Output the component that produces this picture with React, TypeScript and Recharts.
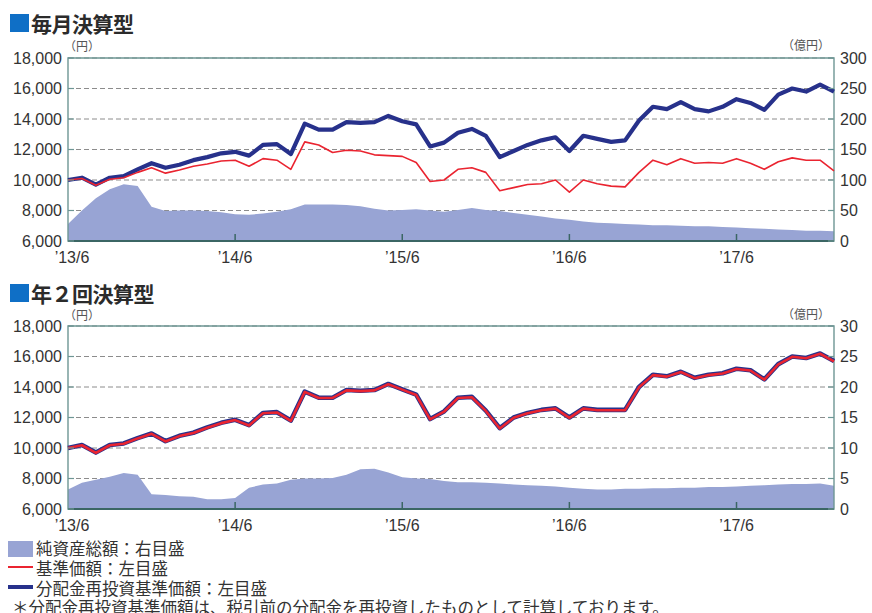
import React from 'react';
import { ComposedChart, Area, Line, XAxis, YAxis, CartesianGrid, ReferenceArea } from 'recharts';

// ---- data (monthly, from 2013/6) ----
const xTickMonths = [0, 12, 24, 36, 48];
const xTickLabels = ['’13/6', '’14/6', '’15/6', '’16/6', '’17/6'];
const leftTicks = [6000, 8000, 10000, 12000, 14000, 16000, 18000];
const rightTicksMonthly = [0, 50, 100, 150, 200, 250, 300];
const rightTicksSemi = [0, 5, 10, 15, 20, 25, 30];

// 毎月決算型
const monthlyNav = [
  10000, 10100, 9650, 10050, 10150, 10500, 10800, 10450, 10650, 10900,
  11050, 11250, 11300, 10900, 11400, 11300, 10700, 12500, 12300, 11800,
  11950, 11900, 11650, 11600, 11550, 11150, 9900, 10000, 10700, 10800,
  10500, 9300, 9500, 9700, 9750, 10000, 9200, 10000, 9750, 9600,
  9550, 10500, 11300, 11000, 11400, 11100, 11150, 11100, 11400, 11100,
  10700, 11200, 11450, 11300, 11300, 10600,
];
const monthlyReinvest = [
  10000, 10150, 9700, 10150, 10250, 10700, 11100, 10800, 11000, 11300,
  11500, 11750, 11850, 11600, 12300, 12350, 11700, 13700, 13300, 13300,
  13800, 13750, 13800, 14200, 13850, 13650, 12200, 12450, 13100, 13350,
  12900, 11500, 11900, 12300, 12600, 12800, 11900, 12900, 12700, 12500,
  12600, 13900, 14800, 14650, 15100, 14650, 14500, 14800, 15300, 15050,
  14600, 15600, 16000, 15800, 16250, 15800,
];
const monthlyAssets = [
  28, 50, 70, 85, 93, 90, 56, 49, 50, 50,
  49, 47, 44, 43, 45, 48, 52, 60, 60, 60,
  59, 57, 53, 50, 51, 52, 50, 48, 51, 54,
  51, 49, 46, 43, 40, 37, 35, 32, 30, 29,
  28, 27, 26, 26, 25, 24, 24, 23, 22, 21,
  20, 19, 18, 17, 17, 16,
];

// 年2回決算型
const semiNav = [
  10000, 10180, 9680, 10180, 10280, 10630, 10930, 10430, 10780, 10980,
  11330, 11630, 11830, 11480, 12280, 12330, 11780, 13680, 13280, 13280,
  13780, 13730, 13780, 14180, 13830, 13480, 11880, 12380, 13280, 13330,
  12430, 11280, 11980, 12280, 12480, 12580, 11980, 12580, 12480, 12480,
  12480, 13980, 14780, 14680, 14980, 14580, 14780, 14880, 15180, 15080,
  14480, 15480, 15980, 15880, 16180, 15680,
];
const semiReinvest = [
  10000, 10200, 9700, 10200, 10300, 10650, 10950, 10450, 10800, 11000,
  11350, 11650, 11850, 11500, 12300, 12350, 11800, 13700, 13300, 13300,
  13800, 13750, 13800, 14200, 13850, 13500, 11900, 12400, 13300, 13350,
  12450, 11300, 12000, 12300, 12500, 12600, 12000, 12600, 12500, 12500,
  12500, 14000, 14800, 14700, 15000, 14600, 14800, 14900, 15200, 15100,
  14500, 15500, 16000, 15900, 16200, 15700,
];
const semiAssets = [
  3.2, 4.3, 4.8, 5.3, 5.9, 5.6, 2.4, 2.3, 2.1, 2.0,
  1.6, 1.6, 1.8, 3.5, 4.0, 4.2, 4.8, 5.0, 5.0, 5.1,
  5.6, 6.5, 6.6, 6.0, 5.2, 5.0, 4.9, 4.6, 4.4, 4.4,
  4.3, 4.2, 4.0, 3.9, 3.8, 3.7, 3.5, 3.3, 3.2, 3.2,
  3.3, 3.3, 3.4, 3.4, 3.5, 3.5, 3.6, 3.6, 3.7, 3.8,
  3.9, 4.0, 4.1, 4.1, 4.2, 3.8,
];

const monthlyRows = monthlyNav.map((v, i) => ({ m: i, nav: v, re: monthlyReinvest[i], a: monthlyAssets[i] }));
const semiRows = semiNav.map((v, i) => ({ m: i, nav: v, re: semiReinvest[i], a: semiAssets[i] }));

// ---- styles ----
const C = {
  border: '#6e9694',
  axis: '#3b6664',
  grid: '#8c8c8c',
  area: '#98a4d4',
  navy: '#27318b',
  red: '#ea2430',
  text: '#333333',
  title: '#2b2b2b',
  square: '#0f6fc6',
};
const numFont = '"Liberation Sans", Arial, sans-serif';
const jpFont = '"Noto Sans CJK JP", "Noto Sans", sans-serif';

const LeftTick = (props: any) => {
  const { x, y, payload } = props;
  return (
    <g>
      <line x1={x + 6} x2={x + 12} y1={y} y2={y} stroke={C.border} strokeWidth={1.2} />
      <text x={x} y={y} dy="0.36em" textAnchor="end" fontFamily={numFont} fontSize={16} fill={C.text}>
        {Number(payload.value).toLocaleString('en-US')}
      </text>
    </g>
  );
};

const RightTick = (props: any) => {
  const { x, y, payload } = props;
  return (
    <g>
      <line x1={x - 6} x2={x - 12} y1={y} y2={y} stroke={C.border} strokeWidth={1.2} />
      <text x={x} y={y} dy="0.36em" textAnchor="start" fontFamily={numFont} fontSize={16} fill={C.text}>
        {payload.value}
      </text>
    </g>
  );
};

const BottomTick = (props: any) => {
  const { x, y, payload } = props;
  const idx = xTickMonths.indexOf(payload.value);
  return (
    <g>
      {idx > 0 ? <line x1={x} x2={x} y1={y - 6} y2={y - 13} stroke={C.axis} strokeWidth={1.5} /> : null}
      <text x={x + (idx === 0 ? 4 : 0)} y={y} dy={16} textAnchor="middle" fontFamily={numFont} fontSize={16} fill={C.text}>
        {xTickLabels[idx]}
      </text>
    </g>
  );
};

function Panel({ rows, rightMax, rightTicks, redWidth, navyWidth }: any) {
  return (
    <ComposedChart width={872} height={270} data={rows} margin={{ top: 58, right: 0, bottom: 0, left: 8 }}>
      <CartesianGrid yAxisId="l" vertical={false} stroke={C.grid} strokeDasharray="5 3" strokeWidth={1} />
      <XAxis
        dataKey="m"
        type="number"
        domain={[0, 55]}
        ticks={xTickMonths}
        interval={0}
        height={29}
        tickSize={6}
        tickMargin={0}
        tickLine={false}
        axisLine={{ stroke: C.axis, strokeWidth: 2 }}
        tick={<BottomTick />}
      />
      <YAxis
        yAxisId="l"
        orientation="left"
        domain={[6000, 18000]}
        ticks={leftTicks}
        interval={0}
        width={60}
        tickSize={6}
        tickMargin={0}
        tickLine={false}
        axisLine={false}
        tick={<LeftTick />}
      />
      <YAxis
        yAxisId="r"
        orientation="right"
        domain={[0, rightMax]}
        ticks={rightTicks}
        interval={0}
        width={38}
        tickSize={6}
        tickMargin={0}
        tickLine={false}
        axisLine={false}
        tick={<RightTick />}
      />
      <Area
        yAxisId="r"
        dataKey="a"
        type="linear"
        stroke="none"
        fill={C.area}
        fillOpacity={1}
        isAnimationActive={false}
      />
      <Line
        yAxisId="l"
        dataKey="re"
        type="linear"
        stroke={C.navy}
        strokeWidth={navyWidth}
        dot={false}
        strokeLinejoin="round"
        isAnimationActive={false}
      />
      <Line
        yAxisId="l"
        dataKey="nav"
        type="linear"
        stroke={C.red}
        strokeWidth={redWidth}
        dot={false}
        strokeLinejoin="round"
        isAnimationActive={false}
      />
      <ReferenceArea
        yAxisId="l"
        x1={0}
        x2={55}
        y1={6000}
        y2={18000}
        fill="none"
        fillOpacity={0}
        stroke={C.border}
        strokeWidth={1.4}
        ifOverflow="visible"
      />
    </ComposedChart>
  );
}

const abs = (left: number, top: number, extra: any = {}) => ({ position: 'absolute' as const, left, top, ...extra });

function Title({ top, text }: { top: number; text: string }) {
  return (
    <div style={abs(0, top, { height: 24, width: 300 })}>
      <div style={abs(10, 3, { width: 19, height: 18, background: C.square })} />
      <div
        style={abs(31, 0, {
          fontFamily: jpFont,
          fontWeight: 700,
          fontSize: 21,
          lineHeight: '24px',
          color: C.title,
          whiteSpace: 'nowrap',
          letterSpacing: -0.5,
        })}
      >
        {text}
      </div>
    </div>
  );
}

const unitStyle = { fontFamily: jpFont, fontSize: 12, lineHeight: '14px', color: '#555', whiteSpace: 'nowrap' as const };
const legendText = { fontFamily: jpFont, fontSize: 16.5, lineHeight: '18px', color: C.text, whiteSpace: 'nowrap' as const };

export default function App() {
  return (
    <div style={{ position: 'absolute', left: 0, top: 0, width: 872, height: 613, background: '#fff', overflow: 'hidden' }}>
      <Title top={11} text="毎月決算型" />
      <div style={abs(64, 39, unitStyle)}>（円）</div>
      <div style={abs(782, 38, unitStyle)}>（億円）</div>
      <div style={abs(0, 0)}>
        <Panel rows={monthlyRows} rightMax={300} rightTicks={rightTicksMonthly} redWidth={1.6} navyWidth={4.2} />
      </div>

      <Title top={281} text="年２回決算型" />
      <div style={abs(64, 308, unitStyle)}>（円）</div>
      <div style={abs(782, 307, unitStyle)}>（億円）</div>
      <div style={abs(0, 268)}>
        <Panel rows={semiRows} rightMax={30} rightTicks={rightTicksSemi} redWidth={2.6} navyWidth={4.6} />
      </div>

      <div style={abs(8, 541, { width: 25, height: 16, background: C.area })} />
      <div style={abs(36, 539, legendText)}>純資産総額：右目盛</div>
      <div style={abs(8, 566, { width: 25, height: 2, background: C.red })} />
      <div style={abs(36, 559, legendText)}>基準価額：左目盛</div>
      <div style={abs(8, 585, { width: 25, height: 4, background: C.navy })} />
      <div style={abs(36, 579, legendText)}>分配金再投資基準価額：左目盛</div>
      <div style={abs(12, 598, legendText)}>＊分配金再投資基準価額は、税引前の分配金を再投資したものとして計算しております。</div>
    </div>
  );
}
